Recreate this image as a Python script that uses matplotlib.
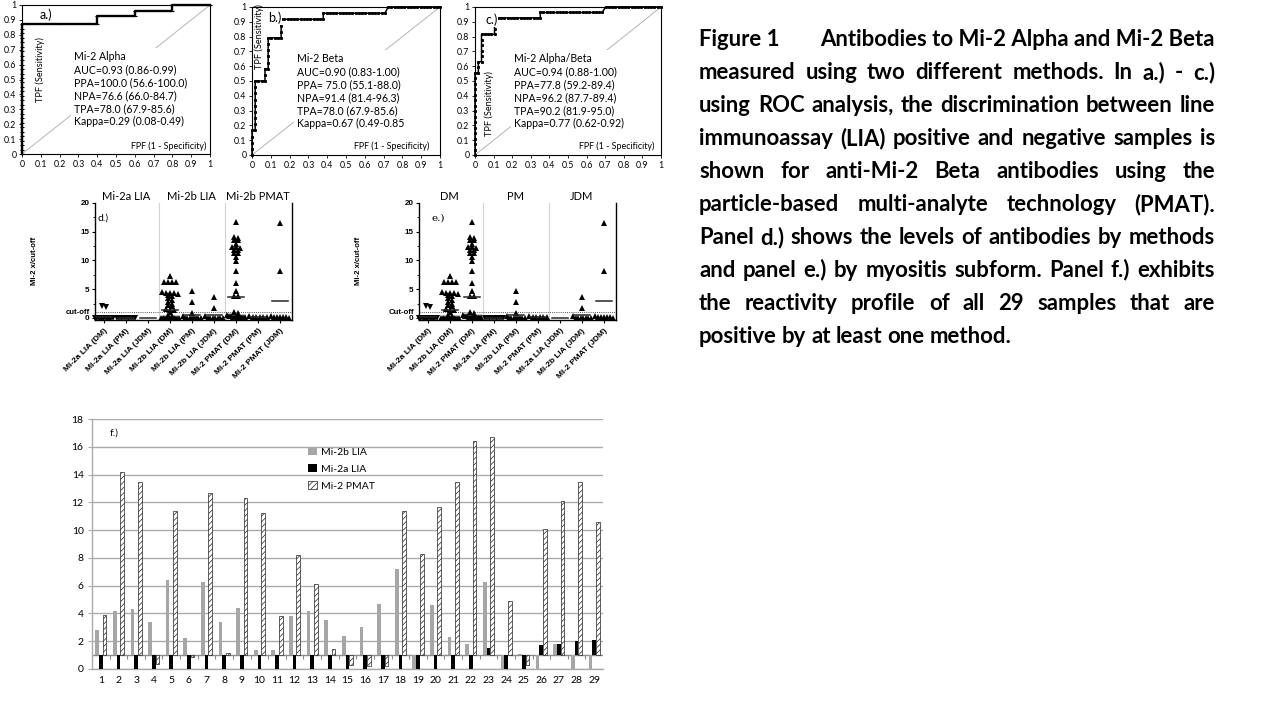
import numpy as np
import matplotlib
matplotlib.use("Agg")
import matplotlib.pyplot as plt
from matplotlib import transforms
from matplotlib.ticker import FormatStrFormatter

plt.rcParams['font.family'] = ['Lato', 'DejaVu Sans']
plt.rcParams['hatch.linewidth'] = 0.5

# ROC curves (FPF, TPF)
roc_a = [(0, 0), (0, 0.03), (0, 0.06), (0, 0.09), (0, 0.12), (0, 0.15), (0, 0.18), (0, 0.21),
         (0, 0.24), (0, 0.27), (0, 0.30), (0, 0.33), (0, 0.36), (0, 0.39), (0, 0.42), (0, 0.45),
         (0, 0.48), (0, 0.51), (0, 0.54), (0, 0.57), (0, 0.60), (0, 0.63), (0, 0.66), (0, 0.69),
         (0, 0.72), (0, 0.75), (0, 0.78), (0, 0.81), (0, 0.84), (0, 0.87),
         (0.2, 0.87), (0.4, 0.87), (0.4, 0.925), (0.6, 0.925), (0.6, 0.96), (0.8, 0.96),
         (0.8, 1.0), (1.0, 1.0)]

roc_b = [(0, 0), (0, 0.042), (0, 0.083), (0, 0.125), (0, 0.167),
         (0.017, 0.167), (0.017, 0.208), (0.017, 0.25), (0.017, 0.292), (0.017, 0.333),
         (0.017, 0.375), (0.017, 0.417), (0.017, 0.458), (0.017, 0.5),
         (0.034, 0.5), (0.052, 0.5), (0.069, 0.5), (0.069, 0.542), (0.069, 0.583),
         (0.086, 0.583), (0.086, 0.625), (0.086, 0.667), (0.086, 0.708), (0.086, 0.75), (0.086, 0.792),
         (0.103, 0.792), (0.121, 0.792), (0.138, 0.792), (0.155, 0.792), (0.155, 0.833),
         (0.155, 0.875), (0.155, 0.917),
         (0.172, 0.917), (0.19, 0.917), (0.207, 0.917), (0.224, 0.917), (0.241, 0.917),
         (0.259, 0.917), (0.276, 0.917), (0.293, 0.917), (0.31, 0.917), (0.328, 0.917),
         (0.345, 0.917), (0.362, 0.917), (0.379, 0.917), (0.379, 0.958),
         (0.397, 0.958), (0.414, 0.958), (0.431, 0.958), (0.448, 0.958), (0.466, 0.958),
         (0.483, 0.958), (0.5, 0.958), (0.517, 0.958), (0.534, 0.958), (0.552, 0.958),
         (0.569, 0.958), (0.586, 0.958), (0.603, 0.958), (0.621, 0.958), (0.638, 0.958),
         (0.655, 0.958), (0.672, 0.958), (0.69, 0.958), (0.707, 0.958), (0.724, 1.0),
         (0.741, 1.0), (0.759, 1.0), (0.776, 1.0), (0.793, 1.0), (0.81, 1.0), (0.828, 1.0),
         (0.845, 1.0), (0.862, 1.0), (0.879, 1.0), (0.897, 1.0), (0.914, 1.0), (0.931, 1.0),
         (0.948, 1.0), (0.966, 1.0), (0.983, 1.0), (1.0, 1.0)]

roc_c = [(0, 0), (0, 0.037), (0, 0.074), (0, 0.111), (0, 0.148), (0, 0.185), (0, 0.222),
         (0, 0.259), (0, 0.296), (0, 0.333), (0, 0.37), (0, 0.407), (0, 0.444), (0, 0.481),
         (0, 0.519), (0, 0.556),
         (0.018, 0.556), (0.018, 0.593), (0.018, 0.63),
         (0.035, 0.63), (0.035, 0.667), (0.035, 0.704), (0.035, 0.741), (0.035, 0.778), (0.035, 0.815),
         (0.053, 0.815), (0.07, 0.815), (0.088, 0.815), (0.105, 0.815), (0.105, 0.852),
         (0.105, 0.889), (0.105, 0.926),
         (0.123, 0.926), (0.14, 0.926), (0.158, 0.926), (0.175, 0.926), (0.193, 0.926),
         (0.211, 0.926), (0.228, 0.926), (0.246, 0.926), (0.263, 0.926), (0.281, 0.926),
         (0.298, 0.926), (0.316, 0.926), (0.333, 0.926), (0.351, 0.926), (0.351, 0.963),
         (0.368, 0.963), (0.386, 0.963), (0.404, 0.963), (0.421, 0.963), (0.439, 0.963),
         (0.456, 0.963), (0.474, 0.963), (0.491, 0.963), (0.509, 0.963), (0.526, 0.963),
         (0.544, 0.963), (0.561, 0.963), (0.579, 0.963), (0.596, 0.963), (0.614, 0.963),
         (0.632, 0.963), (0.649, 0.963), (0.667, 0.963), (0.684, 0.963), (0.702, 1.0),
         (0.719, 1.0), (0.737, 1.0), (0.754, 1.0), (0.772, 1.0), (0.789, 1.0), (0.807, 1.0),
         (0.825, 1.0), (0.842, 1.0), (0.86, 1.0), (0.877, 1.0), (0.895, 1.0), (0.912, 1.0),
         (0.93, 1.0), (0.947, 1.0), (0.965, 1.0), (0.982, 1.0), (1.0, 1.0)]

stats_a = "Mi-2 Alpha\nAUC=0.93 (0.86-0.99)\nPPA=100.0 (56.6-100.0)\nNPA=76.6 (66.0-84.7)\nTPA=78.0 (67.9-85.6)\nKappa=0.29 (0.08-0.49)"
stats_b = "Mi-2 Beta\nAUC=0.90 (0.83-1.00)\nPPA= 75.0 (55.1-88.0)\nNPA=91.4 (81.4-96.3)\nTPA=78.0 (67.9-85.6)\nKappa=0.67 (0.49-0.85"
stats_c = "Mi-2 Alpha/Beta\nAUC=0.94 (0.88-1.00)\nPPA=77.8 (59.2-89.4)\nNPA=96.2 (87.7-89.4)\nTPA=90.2 (81.9-95.0)\nKappa=0.77 (0.62-0.92)"

# dot plots d.) / e.)  (value x/cut-off)
mi2a_lia_dm = [2.0, 1.9, 0, 0, 0, 0, 0, 0, 0, 0, 0, 0, 0, 0, 0, 0, 0, 0]
mi2a_lia_pm = [0, 0, 0, 0, 0, 0, 0, 0, 0, 0, 0]
mi2a_lia_jdm = []
mi2b_lia_dm = [7.2, 6.3, 6.3, 6.2, 6.2, 4.5, 4.4, 4.4, 4.3, 4.2, 4.0, 3.8, 3.4, 3.2, 2.8, 2.5,
               2.3, 2.0, 1.6, 1.4, 1.3, 1.1, 0.5, 0.3, 0, 0, 0, 0, 0, 0, 0, 0, 0, 0, 0, 0]
mi2b_lia_pm = [4.6, 2.8, 0.8, 0.3, 0, 0, 0, 0, 0, 0, 0, 0]
mi2b_lia_jdm = [3.7, 1.7, 0.3, 0, 0, 0, 0, 0, 0, 0]
pmat_dm = [16.7, 14.1, 13.8, 13.5, 13.5, 12.9, 12.4, 12.4, 12.1, 11.8, 11.8, 11.2, 11.2, 10.6,
           9.9, 8.2, 6.0, 4.7, 3.8, 3.8, 1.1, 0.8, 0.5, 0.4, 0.3, 0.2, 0.2, 0.2, 0.1, 0.1, 0.1, 0.1]
pmat_pm = [0.3, 0.2, 0.2, 0.2, 0.1, 0.1]
pmat_jdm = [16.4, 8.1, 0.3, 0.2, 0.2, 0.1, 0.1, 0.1, 0.0]
# group mean lines
mean_a = [0.1, 0.0, 0.0]      # DM, PM, JDM
mean_b = [1.3, 0.5, 0.6]
mean_pmat = [3.6, 0.2, 2.9]

# f.) reactivity profile of 29 positive samples
samples = list(range(1, 30))
mi2b_lia = [2.8, 4.2, 4.3, 3.4, 6.4, 2.2, 6.3, 3.4, 4.4, 1.4, 1.4, 3.8, 4.2, 3.5, 2.4, 3.0, 4.7,
            7.2, 0.0, 4.6, 2.3, 1.8, 6.3, 0.0, 1.1, 0.0, 1.8, 0.0, 0.0]
mi2a_lia = [0.0, 0.0, 0.0, 0.0, 0.0, 0.0, 0.0, 0.0, 0.0, 0.0, 0.0, 0.0, 0.0, 0.0, 0.0, 0.0, 0.0,
            0.0, 0.0, 0.0, 0.0, 0.0, 1.5, 0.0, 0.0, 1.7, 1.8, 2.0, 2.1]
mi2_pmat = [3.9, 14.2, 13.5, 0.35, 11.4, 0.9, 12.7, 1.15, 12.3, 11.2, 3.8, 8.2, 6.1, 1.45, 0.3,
            0.2, 0.2, 11.4, 8.3, 11.7, 13.5, 16.4, 16.7, 4.9, 0.3, 10.1, 12.1, 13.5, 10.6]

caption = [
    "measured using two different methods. In a.) - c.)",
    "using ROC analysis, the discrimination between line",
    "immunoassay (LIA) positive and negative samples is",
    "shown for anti-Mi-2 Beta antibodies using the",
    "particle-based multi-analyte technology (PMAT).",
    "Panel d.) shows the levels of antibodies by methods",
    "and panel e.) by myositis subform. Panel f.) exhibits",
    "the reactivity profile of all 29 samples that are",
    "positive by at least one method.",
]

W, H = 1280, 720
fig = plt.figure(figsize=(W / 100, H / 100), dpi=100)


def box(x0, y0, x1, y1):
    return fig.add_axes([x0 / W, 1 - y1 / H, (x1 - x0) / W, (y1 - y0) / H])


def draw_roc(ax, pts, marker, ms, lw, panel, panel_xy, stats, stats_xy, tpf_xy, fpf_xy):
    fpf, tpf = np.array(pts).T
    ax.plot([0, 1], [0, 1], color='#b5b5b5', lw=0.7, zorder=1)
    ax.plot(fpf, tpf, color='black', lw=lw, marker=marker, ms=ms, mew=0.8,
            zorder=3, clip_on=False)
    ax.set_xlim(0, 1)
    ax.set_ylim(0, 1)
    ticks = np.round(np.arange(0, 1.01, 0.1), 1)
    ax.set_xticks(ticks)
    ax.set_yticks(ticks)
    ax.xaxis.set_major_formatter(FormatStrFormatter('%g'))
    ax.yaxis.set_major_formatter(FormatStrFormatter('%g'))
    ax.tick_params(labelsize=6.3, length=2, width=0.6, pad=2)
    for s in ax.spines.values():
        s.set_linewidth(0.8)
    ax.text(*panel_xy, panel, transform=ax.transAxes, fontsize=9, va='center', zorder=4,
            bbox=dict(facecolor='white', edgecolor='none', pad=0.5))
    ax.text(*stats_xy, stats, transform=ax.transAxes, fontsize=7.6, va='top', linespacing=1.22,
            zorder=2, bbox=dict(facecolor='white', edgecolor='none', pad=2))
    ax.text(*tpf_xy, "TPF (Sensitivity)", transform=ax.transAxes, fontsize=6.6, rotation=90,
            ha='center', va='center', zorder=2)
    ax.text(*fpf_xy, "FPF (1 - Specificity)", transform=ax.transAxes, fontsize=6.4,
            ha='left', va='center', zorder=2,
            bbox=dict(facecolor='white', edgecolor='none', pad=0.5))


ax_a = box(22, 5, 210, 154)
draw_roc(ax_a, roc_a, '_', 3, 1.7, "a.)", (0.095, 0.935), stats_a, (0.275, 0.69),
         (0.095, 0.565), (0.58, 0.055))
ax_b = box(252, 7, 440, 155)
draw_roc(ax_b, roc_b, 's', 1.3, 1.1, "b.)", (0.085, 0.925), stats_b, (0.24, 0.69),
         (0.04, 0.8), (0.54, 0.062))
ax_c = box(475, 7, 661, 155)
draw_roc(ax_c, roc_c, 's', 1.3, 1.1, "c.)", (0.055, 0.915), stats_c, (0.21, 0.69),
         (0.078, 0.35), (0.56, 0.062))


def spread(vals, step=0.12, tol=0.5, max_w=0.8):
    # horizontal scatter of points with similar values (GraphPad style)
    vals = np.asarray(vals, dtype=float)
    order = np.argsort(-vals, kind='stable')
    groups = []
    for i in order:
        if groups and abs(vals[groups[-1][0]] - vals[i]) < tol:
            groups[-1].append(i)
        else:
            groups.append([i])
    xs = np.zeros(len(vals))
    for g in groups:
        k = len(g)
        s = min(step, max_w / max(k - 1, 1))
        for j, i in enumerate(g):
            xs[i] = (j - (k - 1) / 2) * s
    return xs


def draw_dots(ax, cols, means, markers, labels, headers, cut_text, panel, panel_xy, panel_font):
    for i, (vals, m) in enumerate(zip(cols, markers)):
        if len(vals):
            ax.plot(i + spread(vals, step=0.18), vals, ls='none', marker=m, ms=4.4,
                    color='black', mew=0, clip_on=False, zorder=3)
        ax.plot([i - 0.35, i + 0.35], [means[i], means[i]], color='#262626', lw=1.1, zorder=4)
    ax.axvline(2.5, color='#d3d3d3', lw=0.8, zorder=1)
    ax.axvline(5.5, color='#d3d3d3', lw=0.8, zorder=1)
    ax.axhline(1, ls=(0, (1, 1.2)), color='#555555', lw=0.7, zorder=2)
    ax.set_xlim(-0.4, 8.55)
    ax.set_ylim(-0.3, 20)
    ax.spines['top'].set_visible(False)
    for s in ['left', 'right', 'bottom']:
        ax.spines[s].set_linewidth(1.0)
    ax.set_yticks([0, 5, 10, 15, 20])
    ax.set_yticks(np.arange(0, 20.1, 2.5), minor=True)
    ax.set_xticks(range(9))
    ax.set_xticklabels(labels, rotation=45, ha='right', rotation_mode='anchor',
                       fontsize=6, fontweight='bold', family='Liberation Sans')
    for t in ax.get_yticklabels():
        t.set_fontsize(5.8)
        t.set_fontweight('bold')
        t.set_family('Liberation Sans')
    ax.tick_params(axis='both', which='major', length=2.5, width=0.8, pad=1.5)
    ax.tick_params(axis='y', which='minor', length=1.5, width=0.6)
    ax.tick_params(axis='x', which='major', pad=3)
    trans = transforms.blended_transform_factory(ax.transAxes, ax.transData)
    ax.text(-0.025, 1, cut_text, transform=trans, ha='right', va='center', fontsize=5.6,
            fontweight='bold', family='Liberation Sans')
    ax.set_ylabel("Mi-2 x/cut-off", fontsize=5.6, fontweight='bold', family='Liberation Sans')
    ax.yaxis.set_label_coords(-0.29, 0.5)
    htrans = transforms.blended_transform_factory(ax.transData, ax.transAxes)
    for xc, h in zip([1, 4, 7], headers):
        ax.text(xc, 1.01, h, transform=htrans, ha='center', va='bottom', fontsize=8)
    ax.text(*panel_xy, panel, transform=ax.transAxes, fontsize=7.5, family=panel_font)


ax_d = box(95, 202.7, 292, 319.7)
draw_dots(ax_d,
          [mi2a_lia_dm, mi2a_lia_pm, mi2a_lia_jdm, mi2b_lia_dm, mi2b_lia_pm, mi2b_lia_jdm,
           pmat_dm, pmat_pm, pmat_jdm],
          [mean_a[0], mean_a[1], mean_a[2], mean_b[0], mean_b[1], mean_b[2],
           mean_pmat[0], mean_pmat[1], mean_pmat[2]],
          ['v', 'v', 'v', '^', '^', '^', '^', '^', '^'],
          ["Mi-2a LIA (DM)", "Mi-2a LIA (PM)", "Mi-2a LIA (JDM)", "Mi-2b LIA (DM)",
           "Mi-2b LIA (PM)", "Mi-2b LIA (JDM)", "Mi-2 PMAT (DM)", "Mi-2 PMAT (PM)",
           "Mi-2 PMAT (JDM)"],
          ["Mi-2a LIA", "Mi-2b LIA", "Mi-2b PMAT"], "cut-off", "d.)", (0.015, 0.85), 'Lato')

ax_e = box(419, 202.7, 616, 319.7)
draw_dots(ax_e,
          [mi2a_lia_dm, mi2b_lia_dm, pmat_dm, mi2a_lia_pm, mi2b_lia_pm, pmat_pm,
           mi2a_lia_jdm, mi2b_lia_jdm, pmat_jdm],
          [mean_a[0], mean_b[0], mean_pmat[0], mean_a[1], mean_b[1], mean_pmat[1],
           mean_a[2], mean_b[2], mean_pmat[2]],
          ['v', '^', '^', 'v', '^', '^', 'v', '^', '^'],
          ["Mi-2a LIA (DM)", "Mi-2b LIA (DM)", "Mi-2 PMAT (DM)", "Mi-2a LIA (PM)",
           "Mi-2b LIA (PM)", "Mi-2 PMAT (PM)", "Mi-2a LIA (JDM)", "Mi-2b LIA (JDM)",
           "Mi-2 PMAT (JDM)"],
          ["DM", "PM", "JDM"], "Cut-off", "e.)", (0.065, 0.85), 'DejaVu Serif')

# f.) bar chart, bars start at the cut-off (1)
ax_f = box(92, 419, 603, 669)
x = np.array(samples)
w = 0.21
ax_f.bar(x - w, np.array(mi2b_lia) - 1, w, bottom=1, color='#a6a6a6', label='Mi-2b LIA', zorder=3)
ax_f.bar(x, np.array(mi2a_lia) - 1, w, bottom=1, color='black', label='Mi-2a LIA', zorder=3)
ax_f.bar(x + w, np.array(mi2_pmat) - 1, w, bottom=1, color='white', edgecolor='#222222',
         linewidth=0.5, hatch='//////', label='Mi-2 PMAT', zorder=3)
ax_f.set_xlim(0.5, 29.5)
ax_f.set_ylim(0, 18)
ax_f.set_yticks(range(0, 19, 2))
ax_f.set_xticks(samples)
ax_f.grid(axis='y', color='#ababab', lw=1.0)
ax_f.set_axisbelow(True)
ax_f.axhline(1, color='#8c8c8c', lw=1.0, zorder=2)
ax_f.vlines(x[:-1] + 0.5, 0.75, 1, color='#8c8c8c', lw=0.8, zorder=2)
for s in ['top', 'right']:
    ax_f.spines[s].set_visible(False)
for s in ['left', 'bottom']:
    ax_f.spines[s].set_color('#ababab')
    ax_f.spines[s].set_linewidth(1.0)
ax_f.tick_params(axis='y', labelsize=7.5, length=3, color='#ababab', pad=3)
ax_f.tick_params(axis='x', labelsize=7.5, length=0, pad=5)
ax_f.text(0.035, 0.945, "f.)", transform=ax_f.transAxes, fontsize=7.5, va='center')
ax_f.legend(loc='upper left', bbox_to_anchor=(0.415, 0.905), frameon=False, fontsize=7.5,
            handlelength=0.8, handleheight=0.8, handletextpad=0.4, labelspacing=0.72,
            borderaxespad=0)

# caption, justified; font size fitted so the tightest line just fills the block
x_left, x_right = 699, 1215
base0, step = 46.5, 32.9
renderer = fig.canvas.get_renderer()
probe = [fig.text(0, 0, ln, fontsize=10, fontweight='bold') for ln in caption[:-1]]
widest = max(p.get_window_extent(renderer).width for p in probe)
for p in probe:
    p.remove()
cap_kw = dict(fontsize=10 * 508 / widest, fontweight='bold', va='baseline')

fig.text(x_left / W, 1 - base0 / H, "Figure 1", ha='left', **cap_kw)
fig.text(x_right / W, 1 - base0 / H, "Antibodies to Mi-2 Alpha and Mi-2 Beta", ha='right', **cap_kw)
for k, line in enumerate(caption, start=1):
    yb = 1 - (base0 + k * step) / H
    words = line.split()
    objs = [fig.text(0, yb, wd, ha='left', **cap_kw) for wd in words]
    widths = [o.get_window_extent(renderer).width for o in objs]
    if k == len(caption):
        gap = renderer.points_to_pixels(cap_kw['fontsize']) * 0.23
    else:
        gap = (x_right - x_left - sum(widths)) / (len(words) - 1)
    xp = x_left
    for o, wd in zip(objs, widths):
        o.set_x(xp / W)
        xp += wd + gap

fig.savefig("out.png", dpi=100)
